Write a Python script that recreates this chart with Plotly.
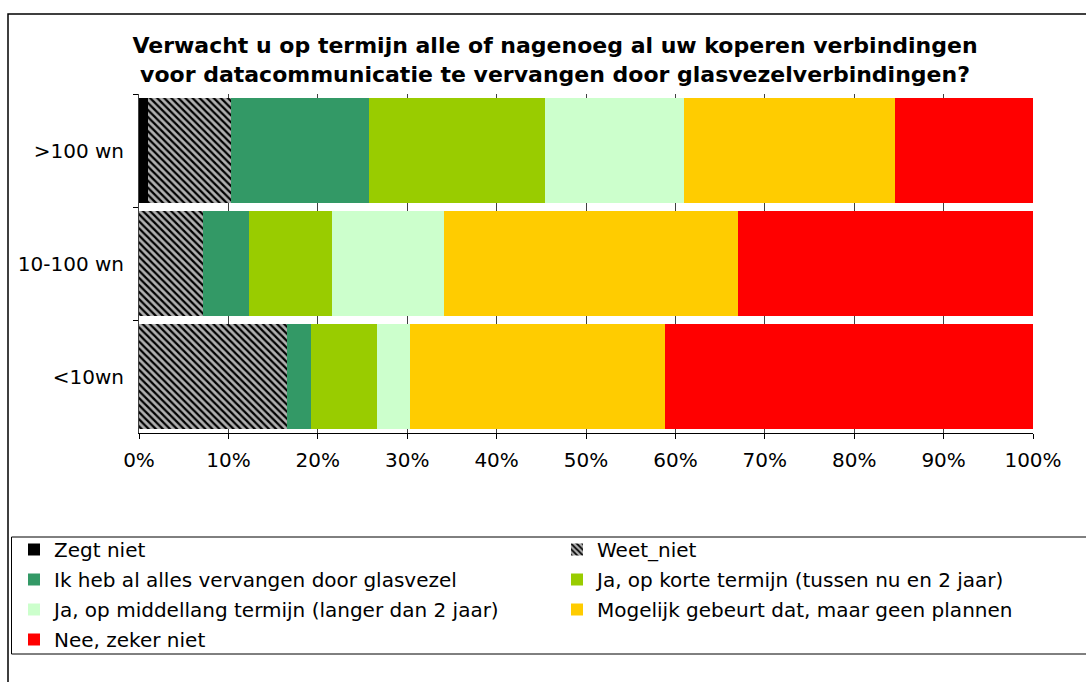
import plotly.graph_objects as go

categories = [">100 wn", "10-100 wn", "<10wn"]

zegt_niet = [1.0, 0.0, 0.0]
weet_niet = [9.3, 7.2, 16.6]
ik_heb = [15.4, 5.1, 2.6]
ja_kort = [19.7, 9.3, 7.4]
ja_middel = [15.6, 12.5, 3.7]
mogelijk = [23.6, 32.9, 28.5]
nee = [15.4, 33.0, 41.2]

series_names = [
    "Zegt niet",
    "Weet_niet",
    "Ik heb al alles vervangen door glasvezel",
    "Ja, op korte termijn (tussen nu en 2 jaar)",
    "Ja, op middellang termijn (langer dan 2 jaar)",
    "Mogelijk gebeurt dat, maar geen plannen",
    "Nee, zeker niet",
]
series_values = [zegt_niet, weet_niet, ik_heb, ja_kort, ja_middel, mogelijk, nee]
series_colors = ["#000000", "#b0b0b0", "#339966", "#99CC00", "#CCFFCC", "#FFCC00", "#FF0000"]
legend_column = ["legend", "legend2", "legend", "legend2", "legend", "legend2", "legend"]

x_ticks = [0, 10, 20, 30, 40, 50, 60, 70, 80, 90, 100]
x_tick_labels = [f"{v}%" for v in x_ticks]

FONT = "Verdana, DejaVu Sans, sans-serif"

W, H = 1086, 682
L, R, T, B = 139, 1033, 94, 433


def px_x(p):
    return (p - L) / (R - L)


def px_y(p):
    return (B - p) / (B - T)


fig = go.Figure()
for i, (name, vals, col, leg) in enumerate(zip(series_names, series_values, series_colors, legend_column)):
    marker = dict(color=col, line=dict(width=0))
    if name == "Weet_niet":
        marker["pattern"] = dict(shape="\\", fgcolor="#000000", bgcolor="#b0b0b0",
                                 size=5, solidity=0.45, fillmode="replace")
    fig.add_trace(go.Bar(
        y=categories, x=vals, name=name, orientation="h", marker=marker,
        legend=leg, legendgroup=f"g{i}",
    ))

legend_common = dict(
    orientation="v", traceorder="grouped", tracegroupgap=1,
    yanchor="top", xanchor="left",
    font=dict(family=FONT, size=20, color="black"),
    bgcolor="rgba(0,0,0,0)", borderwidth=0,
)

fig.update_layout(
    width=W, height=H,
    barmode="stack", bargap=0.07,
    paper_bgcolor="white", plot_bgcolor="white",
    margin=dict(l=L, r=W - R, t=T, b=H - B, autoexpand=False),
    font=dict(family=FONT, size=17, color="black"),
    title=dict(
        text="Verwacht u op termijn alle of nagenoeg al uw koperen verbindingen<br>"
             "voor datacommunicatie te vervangen door glasvezelverbindingen?",
        x=555 / W, xanchor="center", xref="container",
        y=1 - 53 / H, yanchor="top", yref="container",
        font=dict(family=FONT, size=22, color="black", weight="bold"),
    ),
    xaxis=dict(
        range=[0, 100], tickvals=x_ticks, ticktext=x_tick_labels,
        showgrid=True, gridcolor="#404040", gridwidth=1,
        showline=True, linecolor="#000000", linewidth=1,
        ticks="outside", ticklen=5, tickcolor="#000000",
        tickfont=dict(family=FONT, size=20), zeroline=False, ticklabelstandoff=4,
    ),
    yaxis=dict(
        autorange="reversed",
        showline=True, linecolor="#404040", linewidth=1,
        ticks="outside", ticklen=5, tickcolor="#000000", tickson="boundaries",
        tickfont=dict(family=FONT, size=20), ticklabelstandoff=10,
    ),
    legend=dict(legend_common, x=px_x(14), y=px_y(530)),
    legend2=dict(legend_common, x=px_x(557), y=px_y(530)),
    showlegend=True,
    shapes=[
        dict(type="rect", xref="paper", yref="paper",
             x0=px_x(8), x1=px_x(1100), y0=px_y(14), y1=px_y(700),
             line=dict(color="#000000", width=1.5), fillcolor="rgba(0,0,0,0)", layer="below"),
        dict(type="rect", xref="paper", yref="paper",
             x0=px_x(11.5), x1=px_x(1095), y0=px_y(537), y1=px_y(654),
             line=dict(color="#000000", width=1), fillcolor="rgba(0,0,0,0)", layer="below"),
    ],
)

fig.write_html("out.html", config={"displayModeBar": False},
               post_script="document.body.style.margin='0';")
